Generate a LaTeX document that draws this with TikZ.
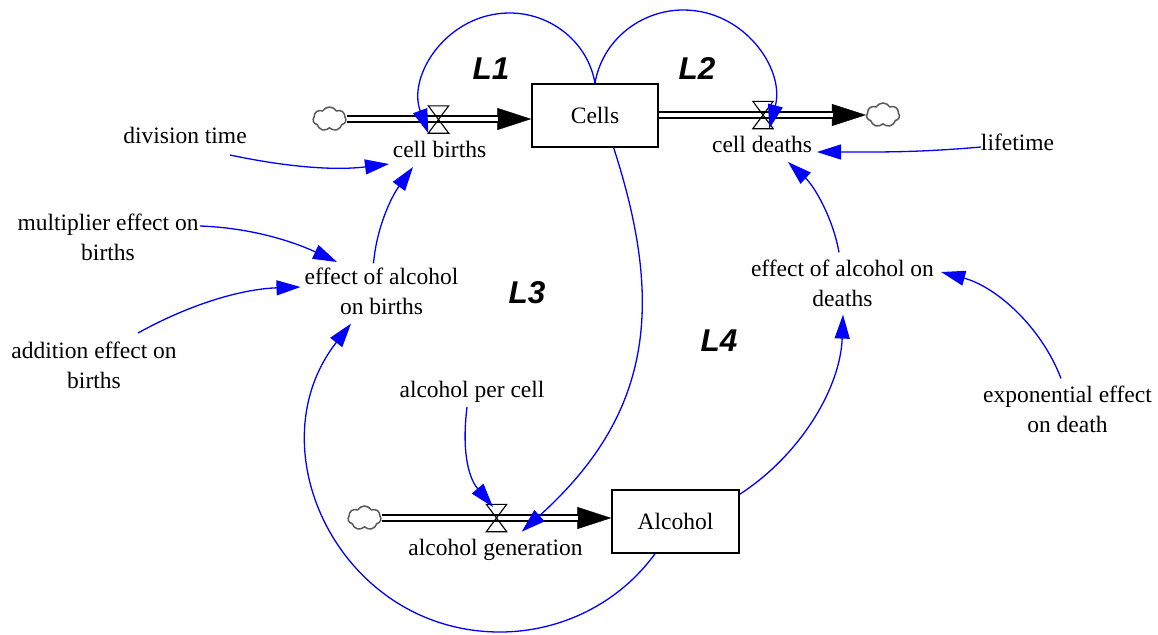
\documentclass[tikz,border=0pt]{standalone}
\usepackage{fontspec}
\setmainfont{Liberation Serif}
\newfontfamily\loopfont{Liberation Sans}
\usetikzlibrary{arrows.meta,shapes.symbols,calc}
\begin{document}
\begin{tikzpicture}[x=1pt,y=1pt,
  every node/.style={font=\fontsize{23.5}{30}\selectfont},
  txt/.style={inner sep=4pt, text height=0.7em, text depth=0.25em},
  txttwo/.style={inner sep=4pt, align=center},
  stock/.style={draw, line width=1.5pt, minimum width=126pt, minimum height=63pt, inner sep=0pt},
  cloudn/.style={cloud, cloud puffs=7, cloud puff arc=120, aspect=1.35, draw=black!65, line width=1.5pt, minimum width=33pt, minimum height=24pt, inner sep=0pt},
  valven/.style={inner sep=0pt, minimum width=20pt, minimum height=27pt},
  valvedraw/.style={line width=1.1pt, line join=miter},
  pipe/.style={double, double distance=3.4pt, line width=2pt, shorten >=33pt},
  pipehead/.style={line width=0.4pt, -{Triangle[length=34pt,width=22pt]}},
  link/.style={draw=blue, line width=1.3pt, -{Triangle[length=24pt,width=15pt]}},
  looplabel/.style={font=\loopfont\bfseries\itshape\fontsize{31.5}{36}\selectfont, inner sep=0pt},
]
\useasboundingbox (0,0) rectangle (1158,-634);

% stocks
\node[stock] (cells) at (595,-115.5) {Cells};
\node[stock, minimum width=127pt] (alc) at (675.5,-521.5) {Alcohol};
% clouds
\node[cloudn] (src1) at (329.5,-119) {};
\node[cloudn] (sink) at (883,-115) {};
\node[cloudn] (src2) at (364.5,-518) {};
% valves
\node[valven] (vb) at (438.5,-119.5) {};
\node[valven] (vd) at (763,-115) {};
\node[valven] (va) at (496.5,-518) {};

% variables
\node[txt, anchor=base] (births) at (439.5,-157) {cell births};
\node[txt, anchor=base] (deaths) at (762,-152) {cell deaths};
\node[txt, anchor=base] (divtime) at (185,-143) {division time};
\node[txt, anchor=base] (lifetime) at (1017.5,-150) {lifetime};
\node[txt, anchor=base] (apc) at (472,-397) {alcohol per cell};
\node[txt, anchor=base] (agen) at (495.5,-555) {alcohol generation};
\node[txttwo] (mult) at (108,-237) {multiplier effect on\\births};
\node[txttwo] (addn) at (94,-365) {addition effect on\\births};
\node[txttwo] (eob) at (381.5,-291) {effect of alcohol\\on births};
\node[txttwo] (eod) at (842.5,-283) {effect of alcohol on\\deaths};
\node[txttwo] (expo) at (1067.5,-409) {exponential effect\\on death};

% loop labels
\node[looplabel] (l1) at (491,-69) {L1};
\node[looplabel] (l2) at (697,-69) {L2};
\node[looplabel] (l3) at (527,-293) {L3};
\node[looplabel] (l4) at (719,-341) {L4};

% way points of the circular links
\coordinate (l1top) at (509.6,-13);
\coordinate (l2top) at (683.4,-10);
\coordinate (l3bot) at (500,-632);

% pipes
\draw[pipehead] (src1.east) -- (src1.east -| cells.west);
\draw[pipe] (src1.east) -- (src1.east -| cells.west);
\draw[pipehead] (cells.east |- sink.west) -- (sink.west);
\draw[pipe] (cells.east |- sink.west) -- (sink.west);
\draw[pipehead] (src2.east) -- (src2.east -| alc.west);
\draw[pipe] (src2.east) -- (src2.east -| alc.west);

% valve symbols
\foreach \v in {vb,vd,va}
  \draw[valvedraw] (\v.north west) -- (\v.north east) -- (\v.south west) -- (\v.south east) -- cycle;

% links
\draw[link] (cells.north) to[out=99.7, in=0, looseness=0.96] (l1top)
  to[out=180, in=110, looseness=1.09] (vb.south west);
\draw[link] (cells.north) to[out=80.6, in=180, looseness=0.96] (l2top)
  to[out=0, in=75, looseness=1.07] ($(vd.south east)+(-4,0)$);
\draw[link] (cells.-60) to[out=-72, in=42, out looseness=1.09, in looseness=1.12] ($(va.south east)+(15,0)$);
\draw[link] ($(apc.base)+(-5,-10)$) to[out=-97, in=130, looseness=1.0] ($(va.center)+(-3.5,11)$);
\draw[link] ($(alc.south)+(-20.5,0)$) to[out=-126, in=0, looseness=0.9] (l3bot)
  to[out=180, in=232, looseness=1.19] ($(eob.south)+(-30.5,-5)$);
\draw[link] ($(eob.north)+(-8,0)$) to[out=85, in=234, looseness=0.9] ($(births.base)+(-26.5,-10)$);
\draw[link] ($(mult.center)+(92,11)$) to[out=-2, in=155, looseness=0.9] ($(eob.center)+(-44.5,29)$);
\draw[link] ($(addn.center)+(44,32)$) to[out=29, in=182, looseness=0.9] ($(eob.west)+(0,4)$);
\draw[link] ($(divtime.base)+(45,-12)$) to[out=-12, in=187, looseness=0.9] ($(births.base)+(-50.5,-7)$);
\draw[link] ($(lifetime.base)+(-36.5,3)$) to[out=185, in=0] ($(deaths.base)+(55,0)$);
\draw[link] ($(eod.north)+(-3.5,3)$) to[out=100, in=317.5, looseness=0.87] ($(deaths.base)+(26,-10)$);
\draw[link] ($(alc.north east)+(0,-5)$) to[out=33, in=268, looseness=0.9] ($(eod.south)+(0.5,-4)$);
\draw[link] ($(expo.north)+(-6.5,3)$) to[out=111, in=345, looseness=0.9] ($(eod.east)+(3,11)$);
\end{tikzpicture}
\end{document}
